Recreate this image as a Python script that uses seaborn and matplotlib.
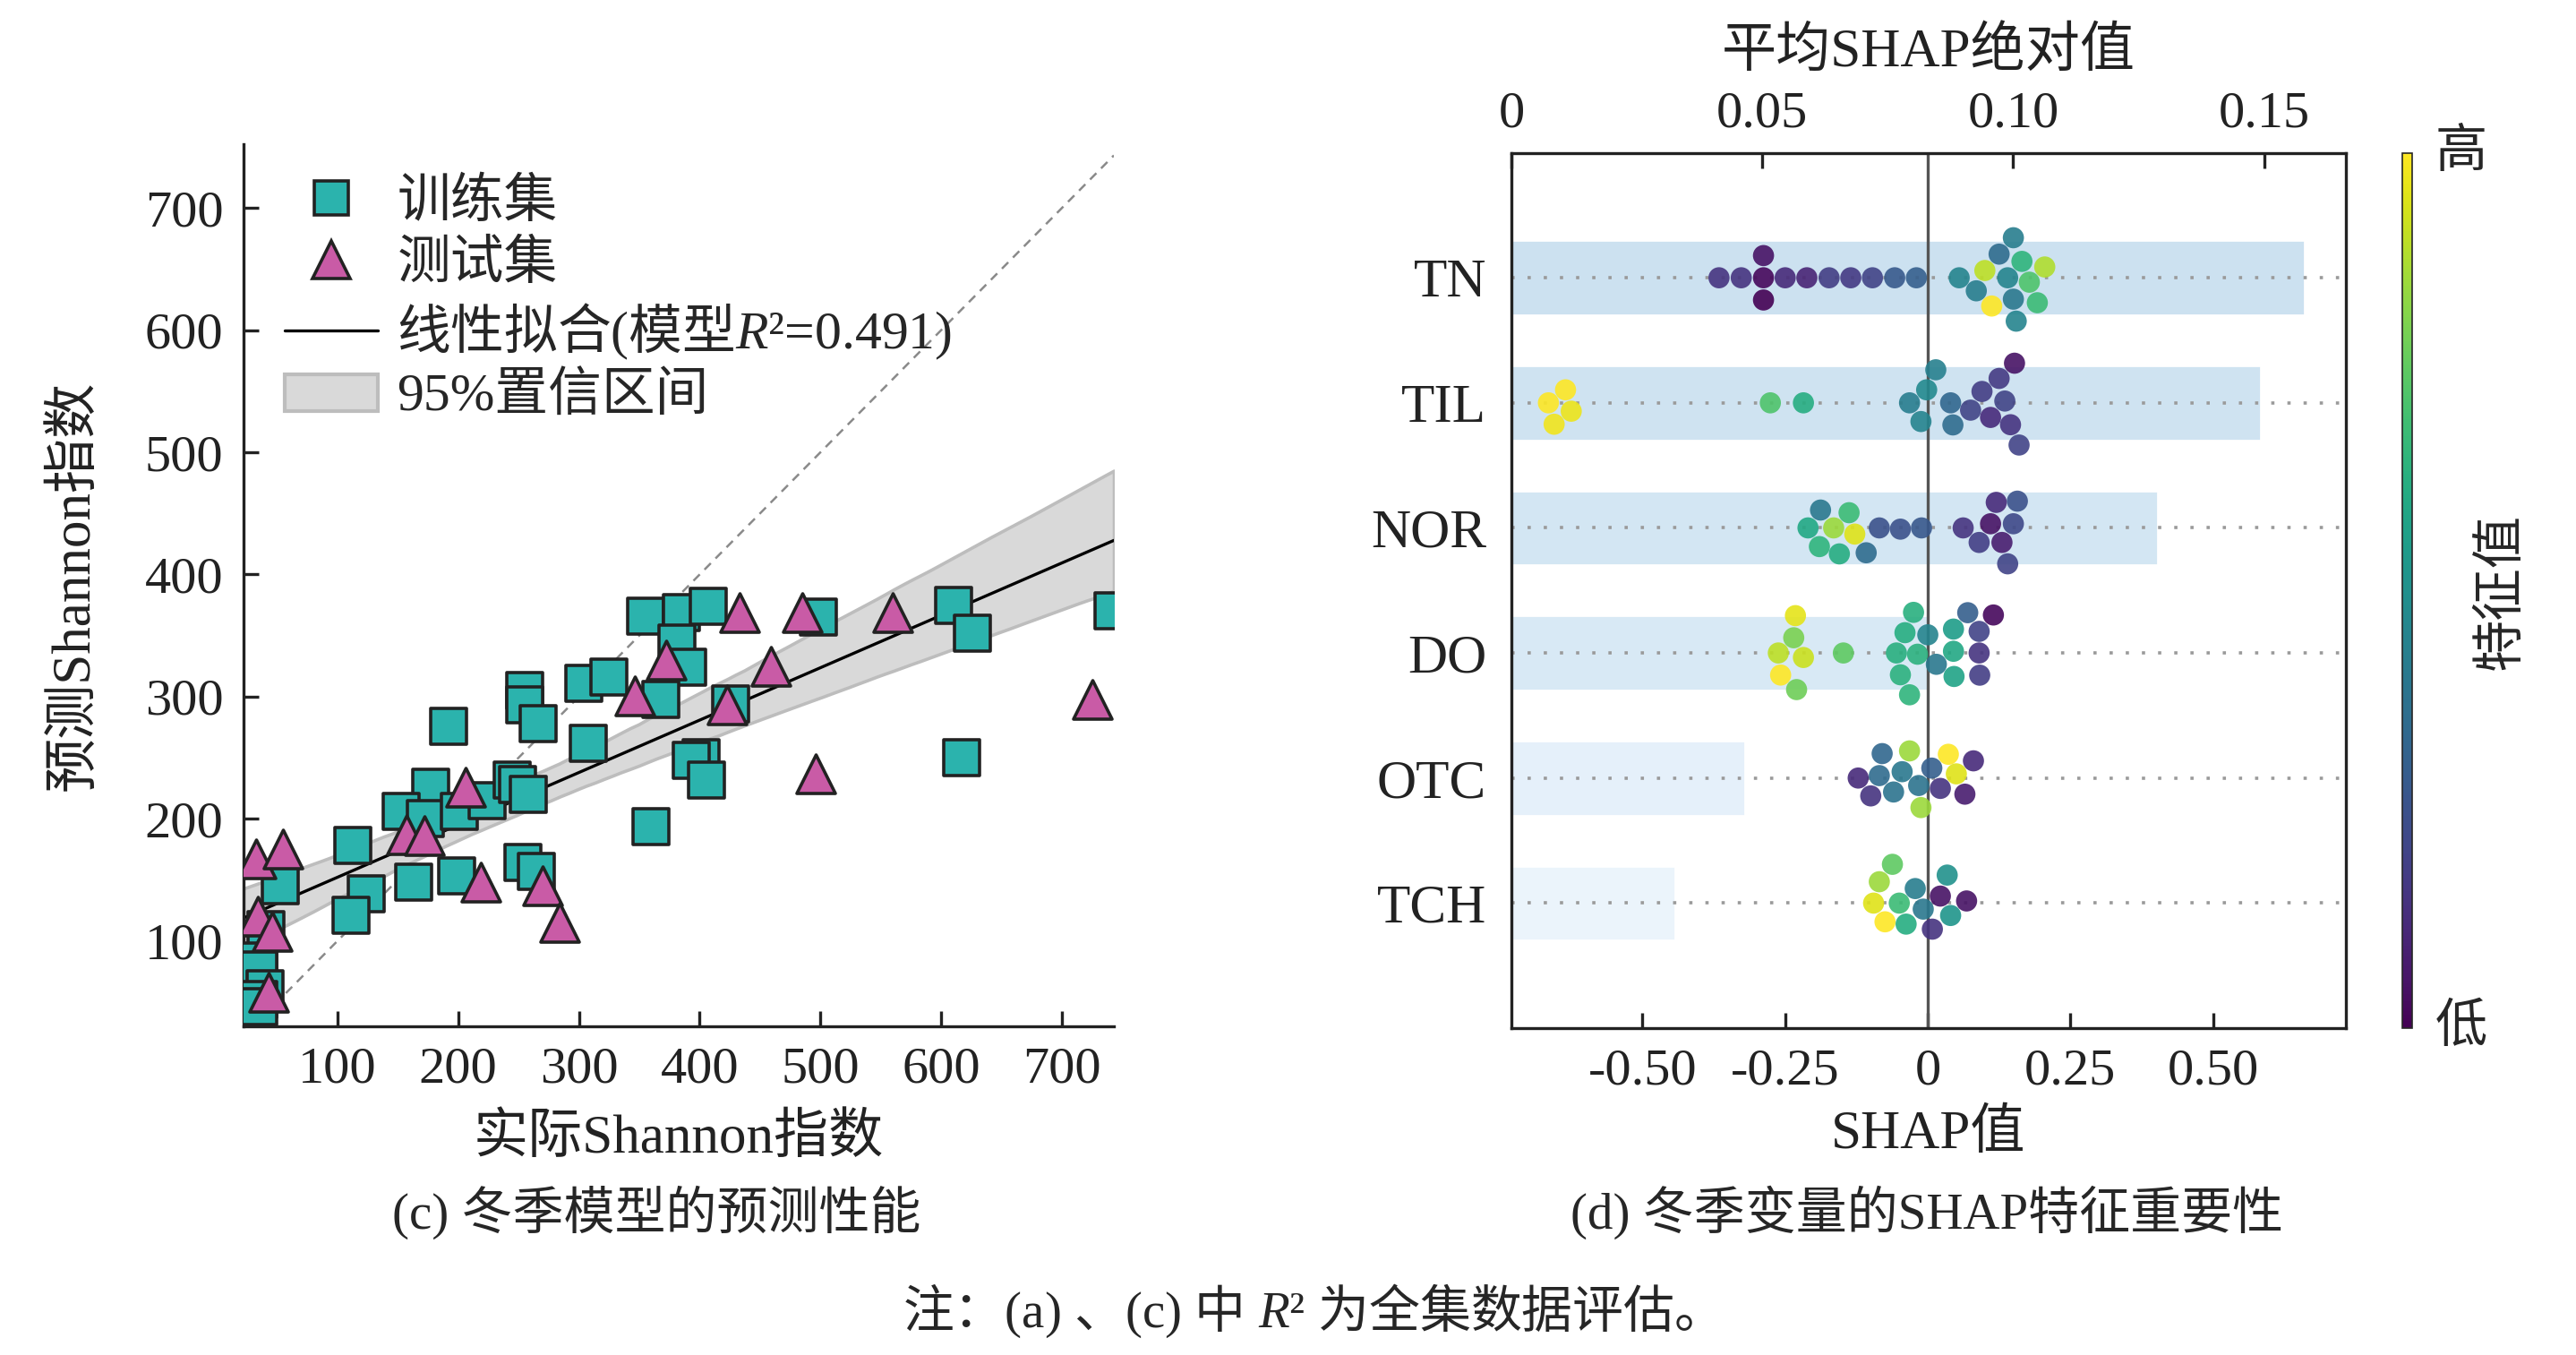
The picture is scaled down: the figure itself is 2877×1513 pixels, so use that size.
import numpy as np
import pandas as pd
import seaborn as sns
import matplotlib as mpl
import matplotlib.pyplot as plt
from matplotlib.lines import Line2D
from matplotlib.patches import Patch

# (c) measured vs predicted Shannon index
train_x = [355, 385, 381, 390, 368, 304, 325, 255, 255, 266, 308, 192, 177, 153, 173,
           201, 224, 245, 249, 258, 113, 163, 199, 254, 265, 124, 111, 53, 41, 35,
           35, 40, 35, 35, 360, 407, 498, 610, 626, 742, 426, 617, 401, 393, 406]
train_y = [366, 369, 344, 324, 298, 311, 316, 305, 293, 278, 262, 276, 226, 206, 200,
           206, 215, 232, 228, 220, 178, 148, 153, 164, 157, 139, 121, 145, 109, 84,
           76, 61, 52, 46, 194, 374, 365, 375, 352, 370, 294, 250, 250, 248, 232]
test_x = [33, 55, 157, 172, 206, 219, 270, 284, 34, 46, 43, 346, 372, 433, 485, 560,
          459, 423, 496, 725]
test_y = [167, 175, 187, 186, 226, 148, 145, 115, 120, 108, 58, 301, 330, 369, 369, 369,
          325, 293, 237, 298]
axis_ticks = [100, 200, 300, 400, 500, 600, 700]

# (d) SHAP importance, winter
features = ["TN", "TIL", "NOR", "DO", "OTC", "TCH"]
mean_abs_shap = [0.158, 0.1494, 0.1288, 0.0832, 0.0466, 0.0327]
bar_colors = ["#cce1f0", "#cfe3f1", "#d3e6f3", "#d8e9f5", "#e5f0fa", "#ebf4fb"]

shap_tn = [-0.366, -0.327, -0.288, -0.288, -0.288, -0.25, -0.212, -0.173, -0.135, -0.097,
           -0.058, -0.02, 0.055, 0.085, 0.1, 0.112, 0.125, 0.14, 0.15, 0.15, 0.155, 0.165,
           0.178, 0.192, 0.205]
fval_tn = [0.15, 0.15, 0.02, 0.0, 0.05, 0.12, 0.1, 0.18, 0.17, 0.2,
           0.28, 0.3, 0.45, 0.42, 0.9, 1.0, 0.35, 0.45, 0.4, 0.42, 0.45, 0.65,
           0.72, 0.68, 0.88]
shap_til = [-0.665, -0.655, -0.635, -0.625, -0.276, -0.218, -0.032, -0.012, -0.002, 0.014,
            0.04, 0.044, 0.075, 0.095, 0.11, 0.125, 0.135, 0.145, 0.152, 0.16]
fval_til = [1.0, 0.98, 1.0, 0.97, 0.72, 0.62, 0.42, 0.45, 0.47, 0.43,
            0.33, 0.35, 0.2, 0.18, 0.12, 0.17, 0.2, 0.15, 0.05, 0.2]
shap_nor = [-0.21, -0.19, -0.188, -0.165, -0.155, -0.138, -0.128, -0.108, -0.085, -0.048,
            -0.011, 0.062, 0.09, 0.11, 0.12, 0.13, 0.14, 0.15, 0.157]
fval_nor = [0.6, 0.65, 0.4, 0.85, 0.62, 0.68, 0.95, 0.35, 0.25, 0.25,
            0.27, 0.15, 0.18, 0.05, 0.12, 0.08, 0.2, 0.22, 0.25]
shap_do = [-0.262, -0.258, -0.235, -0.232, -0.23, -0.218, -0.148,
           -0.055, -0.048, -0.04, -0.032, -0.025, -0.018, 0.0, 0.015,
           0.045, 0.045, 0.046, 0.07, 0.09, 0.09, 0.091, 0.115]
fval_do = [0.9, 1.0, 0.8, 0.96, 0.78, 0.92, 0.75,
           0.63, 0.64, 0.62, 0.65, 0.63, 0.64, 0.45, 0.4,
           0.6, 0.55, 0.58, 0.3, 0.15, 0.2, 0.18, 0.02]
shap_otc = [-0.122, -0.1, -0.085, -0.08, -0.06, -0.045, -0.032, -0.016, -0.012, 0.007,
            0.022, 0.036, 0.05, 0.065, 0.08]
fval_otc = [0.12, 0.15, 0.35, 0.33, 0.38, 0.4, 0.85, 0.38, 0.85, 0.3,
            0.15, 1.0, 0.95, 0.08, 0.12]
shap_tch = [-0.095, -0.085, -0.075, -0.062, -0.05, -0.038, -0.022, -0.008, 0.008, 0.022,
            0.034, 0.04, 0.068]
fval_tch = [0.95, 0.85, 1.0, 0.75, 0.68, 0.62, 0.42, 0.4, 0.15, 0.05,
            0.5, 0.52, 0.05]

shap_ticks = [-0.5, -0.25, 0, 0.25, 0.5]
shap_ticklabels = ["-0.50", "-0.25", "0", "0.25", "0.50"]
imp_ticks = [0, 0.05, 0.10, 0.15]
imp_ticklabels = ["0", "0.05", "0.10", "0.15"]

shap_lists = dict(zip(features, [shap_tn, shap_til, shap_nor, shap_do, shap_otc, shap_tch]))
fval_lists = dict(zip(features, [fval_tn, fval_til, fval_nor, fval_do, fval_otc, fval_tch]))
rows = []
for f in features:
    for s, v in zip(shap_lists[f], fval_lists[f]):
        rows.append((f, s, v))
shap_df = pd.DataFrame(rows, columns=["feature", "shap", "fval"])

sns.set_theme(style="white")
plt.rcParams["font.family"] = ["Liberation Serif", "Noto Sans CJK SC"]
plt.rcParams["mathtext.fontset"] = "custom"
plt.rcParams["mathtext.rm"] = "Noto Sans CJK SC"
plt.rcParams["mathtext.it"] = "Liberation Serif:italic"
plt.rcParams["axes.unicode_minus"] = False

FS = 21
train_color = "#2bb3ad"
test_color = "#c95ba6"

fig = plt.figure(figsize=(14.385, 7.565), dpi=200)
fig.patch.set_facecolor("white")

# ---------- left panel ----------
ax1 = fig.add_axes([0.0944, 0.2424, 0.338, 0.651])
ax1.set_xlim(22, 743)
ax1.set_ylim(30, 752)
ax1.axline((0, 0), slope=1, ls=(0, (4, 3)), color="#8a8a8a", lw=0.9, zorder=1)

all_x = train_x + test_x
all_y = train_y + test_y
sns.regplot(x=all_x, y=all_y, scatter=False, ci=95, truncate=False, seed=3,
            color="black", line_kws=dict(lw=1.2, zorder=2), ax=ax1)
band = ax1.collections[-1]
band.set_alpha(None)
band.set_facecolor("#d9d9d9")
band.set_edgecolor("#bdbdbd")
band.set_linewidth(1.3)

sns.scatterplot(x=train_x, y=train_y, marker="s", s=210, color=train_color,
                edgecolor="#222222", linewidth=1.3, ax=ax1, zorder=3, legend=False)
sns.scatterplot(x=test_x, y=test_y, marker="^", s=240, color=test_color,
                edgecolor="#222222", linewidth=1.3, ax=ax1, zorder=4, legend=False)
ax1.set_xlim(22, 743)
ax1.set_ylim(30, 752)
ax1.set_xticks(axis_ticks)
ax1.set_yticks(axis_ticks)
ax1.tick_params(direction="in", length=6, width=1.2, labelsize=FS, pad=8,
                bottom=True, left=True, colors="#222222")
for side in ["top", "right"]:
    ax1.spines[side].set_visible(False)
for side in ["left", "bottom"]:
    ax1.spines[side].set_color("#222222")
    ax1.spines[side].set_linewidth(1.2)
ax1.set_xlabel("实际Shannon指数", fontsize=FS + 1, labelpad=8, color="#222222")
ax1.set_ylabel("预测Shannon指数", fontsize=FS + 1, labelpad=18, color="#222222")

handles = [
    Line2D([], [], marker="s", ls="", ms=14, mfc=train_color, mec="#222222", mew=1.3),
    Line2D([], [], marker="^", ls="", ms=15, mfc=test_color, mec="#222222", mew=1.3),
    Line2D([], [], color="black", lw=1.2),
    Patch(facecolor="#d9d9d9", edgecolor="#bdbdbd", lw=1.5),
]
labels = ["训练集", "测试集", r"$\mathrm{线性拟合}$($\mathrm{模型}R$²=0.491)", "95%置信区间"]
ax1.legend(handles, labels, loc="upper left", bbox_to_anchor=(0.023, 0.985), frameon=False,
           fontsize=FS + 0.5, handlelength=1.75, handletextpad=0.35, labelspacing=0.22,
           borderaxespad=0)

# ---------- right panel ----------
ax2 = fig.add_axes([0.5867, 0.2412, 0.324, 0.6461])
axt = ax2.twiny()
axt.set_zorder(0)
ax2.set_zorder(1)
ax2.patch.set_visible(False)

sns.barplot(x=mean_abs_shap, y=features, hue=features, palette=bar_colors, legend=False,
            orient="h", width=0.6, saturation=1, ax=axt)
ax2.axvline(0, color="#555555", lw=1.2, zorder=1)
sns.swarmplot(data=shap_df, x="shap", y="feature", hue="fval", order=features,
              palette="viridis", hue_norm=(0, 1), size=8.5, alpha=0.9, linewidth=0,
              legend=False, ax=ax2, zorder=3)

ax2.set_xlim(-0.73, 0.733)
axt.set_xlim(0, 0.1663)
ax2.set_ylim(6, -1)
ax2.yaxis.grid(True, linestyle=(0, (1, 4)), color="#9a9a9a", lw=1.3)
ax2.xaxis.grid(False)
axt.grid(False)
ax2.set_xticks(shap_ticks)
ax2.set_xticklabels(shap_ticklabels)
axt.set_xticks(imp_ticks)
axt.set_xticklabels(imp_ticklabels)
ax2.tick_params(axis="x", direction="in", length=6, width=1.2, labelsize=FS, pad=8,
                bottom=True, colors="#222222")
axt.tick_params(axis="x", direction="in", length=6, width=1.2, labelsize=FS, pad=6,
                top=True, colors="#222222")
ax2.tick_params(axis="y", length=0, labelsize=FS + 1, pad=10, colors="#222222")
axt.tick_params(axis="y", length=0, labelleft=False, labelright=False)
for side in ["top", "right", "left", "bottom"]:
    ax2.spines[side].set_visible(True)
    ax2.spines[side].set_color("#222222")
    ax2.spines[side].set_linewidth(1.2)
    axt.spines[side].set_visible(False)
ax2.set_xlabel("SHAP值", fontsize=FS + 1, labelpad=6, color="#222222")
ax2.set_ylabel("")
axt.set_ylabel("")
axt.set_xlabel("平均SHAP绝对值", fontsize=FS + 1, labelpad=10, color="#222222")

cax = fig.add_axes([0.9324, 0.2412, 0.004, 0.6461])
sm = mpl.cm.ScalarMappable(norm=mpl.colors.Normalize(0, 1), cmap="viridis")
cb = fig.colorbar(sm, cax=cax)
cb.set_ticks([])
cb.outline.set_linewidth(0.6)
cax.text(3.2, 1.0, "高", transform=cax.transAxes, ha="left", va="center", fontsize=FS)
cax.text(3.2, 0.0, "低", transform=cax.transAxes, ha="left", va="center", fontsize=FS)
fig.text(0.971, 0.5636, "特征值", rotation=90, ha="center", va="center", fontsize=FS)

# ---------- captions ----------
fig.text(0.255, 0.1055, "(c) 冬季模型的预测性能", ha="center", va="center", fontsize=FS - 0.5)
fig.text(0.748, 0.1055, "(d) 冬季变量的SHAP特征重要性", ha="center", va="center", fontsize=FS - 0.5)
fig.text(0.504, 0.0327,
         r"$\mathrm{注：}$(a) $\mathrm{、}$(c) $\mathrm{中}$ $R$² $\mathrm{为全集数据评估。}$",
         ha="center", va="center", fontsize=FS - 0.5)

fig.savefig("out.png", dpi=200, facecolor="white")
